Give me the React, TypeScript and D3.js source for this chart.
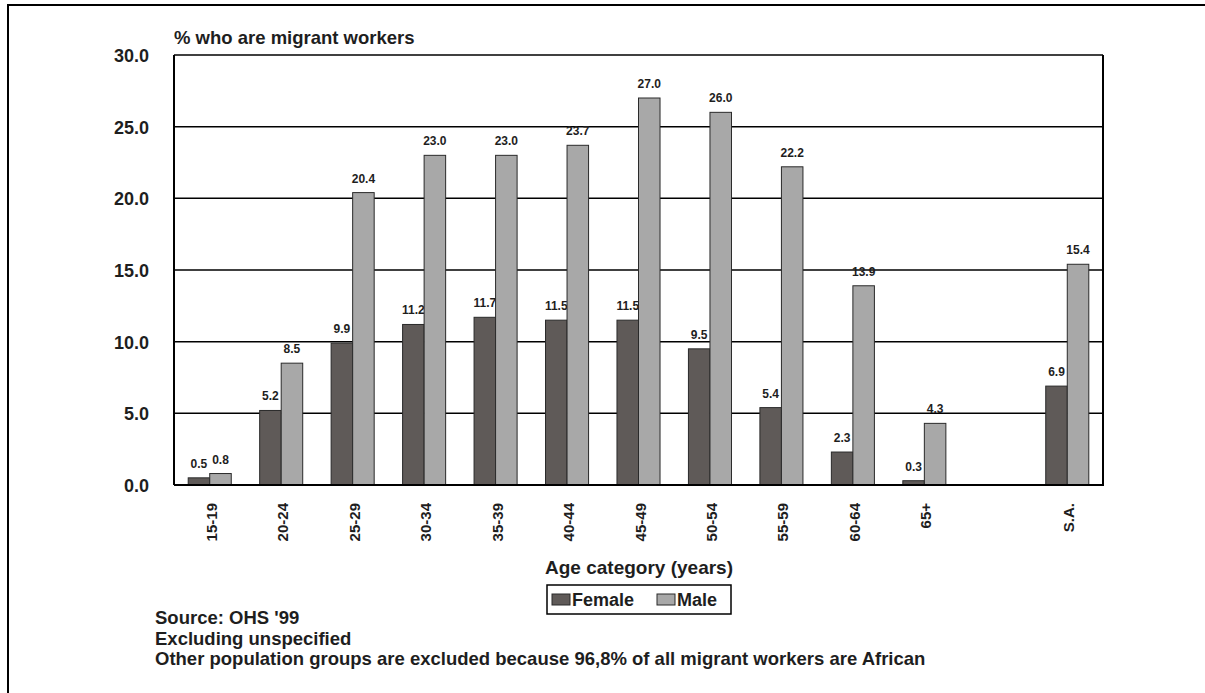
import React, { useEffect, useRef } from 'react';
import * as d3 from 'd3';

const categories = ['15-19', '20-24', '25-29', '30-34', '35-39', '40-44', '45-49', '50-54', '55-59', '60-64', '65+', '', 'S.A.'];
const female: (number | null)[] = [0.5, 5.2, 9.9, 11.2, 11.7, 11.5, 11.5, 9.5, 5.4, 2.3, 0.3, null, 6.9];
const male: (number | null)[] = [0.8, 8.5, 20.4, 23.0, 23.0, 23.7, 27.0, 26.0, 22.2, 13.9, 4.3, null, 15.4];
const yTicks = [0, 5, 10, 15, 20, 25, 30];
const seriesNames = ['Female', 'Male'];
const seriesColors = ['#5f5a58', '#a8a8a8'];
const notes = ['Source: OHS \'99', 'Excluding unspecified', 'Other population groups are excluded because 96,8% of all migrant workers are African'];

const App: React.FC = () => {
  const svgRef = useRef<SVGSVGElement | null>(null);

  useEffect(() => {
    const width = 1205;
    const height = 693;
    const left = 174, right = 1103, top = 55, bottom = 485;
    const font = 'Liberation Sans, Arial, sans-serif';
    const ink = '#1e1e1e';

    const svg = d3.select(svgRef.current)
      .attr('width', width)
      .attr('height', height)
      .style('font-family', font);
    svg.selectAll('*').remove();

    // outer frame
    svg.append('rect')
      .attr('x', 8).attr('y', 5)
      .attr('width', 1300).attr('height', 800)
      .attr('fill', 'none').attr('stroke', '#000').attr('stroke-width', 2);

    const keys = categories.map((c, i) => c || `blank${i}`);
    const x0 = d3.scaleBand<string>().domain(keys).range([left, right]);
    const x1 = d3.scaleBand<string>().domain(seriesNames).range([0, x0.bandwidth()]).paddingOuter(0.66);
    const y = d3.scaleLinear().domain([0, 30]).range([bottom, top]);

    // gridlines
    svg.append('g').selectAll('line')
      .data(yTicks.filter(t => t > 0))
      .enter().append('line')
      .attr('x1', left).attr('x2', right)
      .attr('y1', d => y(d)).attr('y2', d => y(d))
      .attr('stroke', '#000').attr('stroke-width', 1.5);

    // right border
    svg.append('line')
      .attr('x1', right).attr('x2', right).attr('y1', top).attr('y2', bottom)
      .attr('stroke', '#000').attr('stroke-width', 2);

    const series = [female, male];
    series.forEach((vals, si) => {
      const g = svg.append('g');
      const data = vals.map((v, i) => ({ key: keys[i], v })).filter(d => d.v !== null) as { key: string; v: number }[];
      g.selectAll('rect')
        .data(data)
        .enter().append('rect')
        .attr('x', d => (x0(d.key) as number) + (x1(seriesNames[si]) as number))
        .attr('y', d => y(d.v))
        .attr('width', x1.bandwidth())
        .attr('height', d => bottom - y(d.v))
        .attr('fill', seriesColors[si])
        .attr('stroke', '#2a2a2a').attr('stroke-width', 1);
      g.selectAll('text')
        .data(data)
        .enter().append('text')
        .attr('x', d => (x0(d.key) as number) + (x1(seriesNames[si]) as number) + x1.bandwidth() / 2)
        .attr('y', d => y(d.v) - 10)
        .attr('text-anchor', 'middle')
        .attr('font-size', 12).attr('font-weight', 'bold').attr('fill', ink)
        .text(d => d.v.toFixed(1));
    });

    // axes lines
    svg.append('line')
      .attr('x1', left).attr('x2', left).attr('y1', top).attr('y2', bottom)
      .attr('stroke', '#000').attr('stroke-width', 2);
    svg.append('line')
      .attr('x1', left).attr('x2', right + 1).attr('y1', bottom).attr('y2', bottom)
      .attr('stroke', '#000').attr('stroke-width', 2);

    // y tick labels
    svg.append('g').selectAll('text')
      .data(yTicks)
      .enter().append('text')
      .attr('x', 149)
      .attr('y', d => y(d) + 7)
      .attr('text-anchor', 'end')
      .attr('font-size', 18).attr('font-weight', 'bold').attr('fill', ink)
      .text(d => d.toFixed(1));

    // x tick labels
    svg.append('g').selectAll('text')
      .data(categories.map((c, i) => ({ c, key: keys[i] })).filter(d => d.c))
      .enter().append('text')
      .attr('transform', d => `translate(${(x0(d.key) as number) + x0.bandwidth() / 2 + 7},${bottom + 18}) rotate(-90)`)
      .attr('text-anchor', 'end')
      .attr('font-size', 15).attr('font-weight', 'bold').attr('fill', ink)
      .text(d => d.c);

    // title
    svg.append('text')
      .attr('x', 174).attr('y', 44)
      .attr('font-size', 18.5).attr('font-weight', 'bold').attr('fill', ink)
      .text('% who are migrant workers');

    svg.append('text')
      .attr('x', 639).attr('y', 574)
      .attr('text-anchor', 'middle')
      .attr('font-size', 19).attr('font-weight', 'bold').attr('fill', ink)
      .text('Age category (years)');

    // legend
    const lg = svg.append('g');
    lg.append('rect')
      .attr('x', 547).attr('y', 585).attr('width', 184).attr('height', 29)
      .attr('fill', '#fff').attr('stroke', '#000').attr('stroke-width', 1.5);
    const legendX = [552, 657];
    seriesNames.forEach((name, i) => {
      lg.append('rect')
        .attr('x', legendX[i]).attr('y', 594).attr('width', 18).attr('height', 11)
        .attr('fill', seriesColors[i]).attr('stroke', '#2a2a2a').attr('stroke-width', 1);
      lg.append('text')
        .attr('x', legendX[i] + 20).attr('y', 606)
        .attr('font-size', 18).attr('font-weight', 'bold').attr('fill', ink)
        .text(name);
    });

    // notes
    svg.append('g').selectAll('text')
      .data(notes)
      .enter().append('text')
      .attr('x', 155)
      .attr('y', (d, i) => 624 + i * 20.5)
      .attr('font-size', 18.5).attr('font-weight', 'bold').attr('fill', ink)
      .text(d => d);
  }, []);

  return <svg ref={svgRef} style={{ position: 'absolute', left: 0, top: 0 }}></svg>;
};

export default App;
